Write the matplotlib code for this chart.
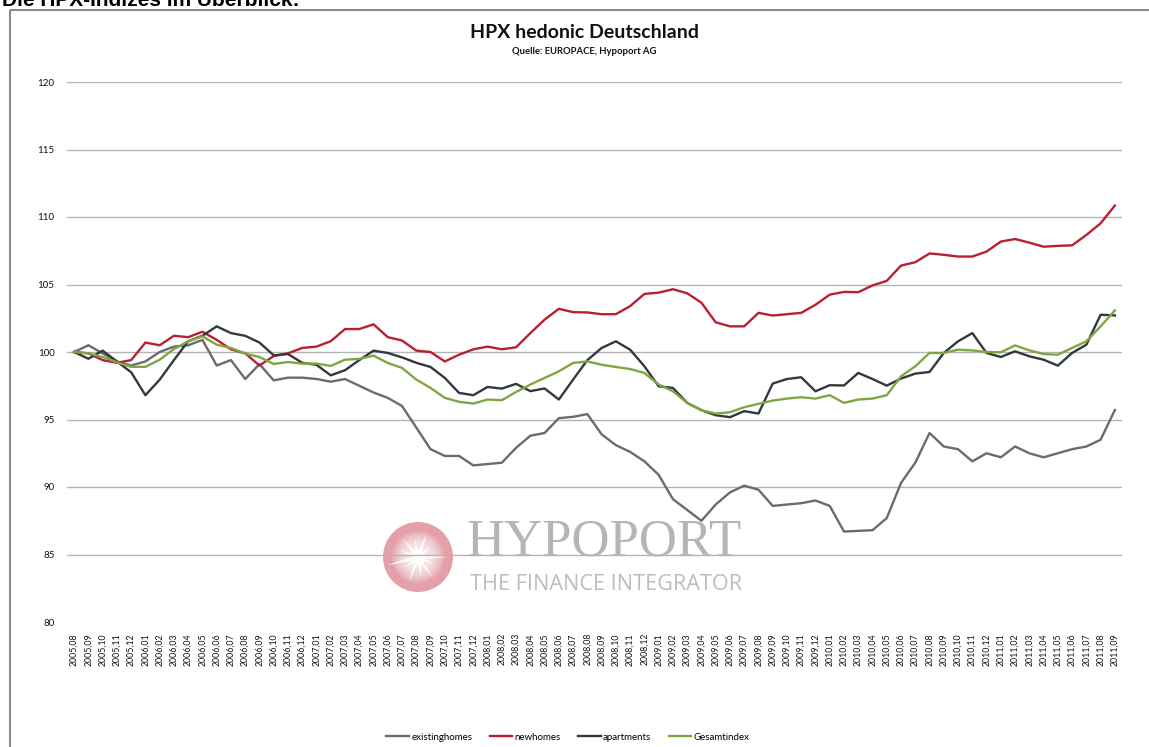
import numpy as np
import matplotlib
matplotlib.use("Agg")
import matplotlib.pyplot as plt
from matplotlib.patches import Circle, Rectangle, Polygon

plt.rcParams['font.family'] = ['Lato', 'DejaVu Sans']

# monthly index values, 2005-08 .. 2011-09 (base 2005-08 = 100)
months = [(y, m) for y in range(2005, 2012) for m in range(1, 13)
          if (y, m) >= (2005, 8) and (y, m) <= (2011, 9)]
tick_labels = ["%d,%02d" % (y, m) for y, m in months]

existinghomes = [100.0, 100.5, 99.9, 99.3, 99.0, 99.3, 100.0, 100.4, 100.5, 100.9,
                 99.0, 99.4, 98.0, 99.1, 97.9, 98.1, 98.1, 98.0, 97.8, 98.0,
                 97.5, 97.0, 96.6, 96.0, 94.4, 92.8, 92.3, 92.3, 91.6, 91.7,
                 91.8, 92.9, 93.8, 94.0, 95.1, 95.2, 95.4, 93.9, 93.1, 92.6,
                 91.9, 90.9, 89.1, 88.3, 87.5, 88.7, 89.6, 90.1, 89.8, 88.6,
                 88.7, 88.8, 89.0, 88.6, 86.7, 86.75, 86.8, 87.7, 90.3, 91.8,
                 94.0, 93.0, 92.8, 91.9, 92.5, 92.2, 93.0, 92.5, 92.2, 92.5,
                 92.8, 93.0, 93.5, 95.7]
newhomes = [100.0, 99.9, 99.4, 99.2, 99.4, 100.7, 100.5, 101.2, 101.1, 101.5,
            100.9, 100.2, 99.9, 99.0, 99.7, 99.9, 100.3, 100.4, 100.8, 101.7,
            101.7, 102.05, 101.1, 100.85, 100.1, 100.0, 99.3, 99.8, 100.2, 100.4,
            100.2, 100.35, 101.4, 102.4, 103.2, 102.95, 102.93, 102.8, 102.8, 103.4,
            104.3, 104.4, 104.65, 104.35, 103.65, 102.2, 101.9, 101.9, 102.9, 102.7,
            102.8, 102.9, 103.5, 104.25, 104.45, 104.43, 104.93, 105.27, 106.4, 106.65,
            107.3, 107.2, 107.07, 107.07, 107.44, 108.18, 108.37, 108.1, 107.8, 107.86,
            107.9, 108.67, 109.53, 110.85]
apartments = [100.0, 99.5, 100.1, 99.3, 98.5, 96.8, 97.95, 99.4, 100.8, 101.2,
              101.9, 101.4, 101.2, 100.7, 99.75, 99.85, 99.2, 99.05, 98.27, 98.65,
              99.4, 100.1, 99.93, 99.6, 99.2, 98.89, 98.08, 96.97, 96.8, 97.41,
              97.29, 97.64, 97.1, 97.3, 96.48, 97.96, 99.4, 100.3, 100.79, 100.17,
              98.94, 97.46, 97.34, 96.23, 95.69, 95.32, 95.17, 95.62, 95.44, 97.66,
              98.0, 98.13, 97.09, 97.54, 97.52, 98.45, 98.0, 97.51, 98.03, 98.4,
              98.52, 99.93, 100.79, 101.4, 99.93, 99.63, 100.05, 99.68, 99.43, 98.99,
              99.93, 100.54, 102.76, 102.71]
gesamtindex = [100.0, 99.9, 99.63, 99.24, 98.9, 98.9, 99.43, 100.22, 100.79, 101.16,
               100.54, 100.3, 99.88, 99.63, 99.11, 99.26, 99.14, 99.14, 98.97, 99.43,
               99.49, 99.73, 99.19, 98.82, 97.96, 97.34, 96.6, 96.31, 96.18, 96.48,
               96.43, 97.04, 97.59, 98.08, 98.57, 99.19, 99.3, 99.06, 98.89, 98.74,
               98.45, 97.59, 97.09, 96.23, 95.69, 95.44, 95.54, 95.91, 96.16, 96.4,
               96.55, 96.65, 96.55, 96.8, 96.23, 96.48, 96.55, 96.8, 98.2, 98.94,
               99.93, 99.93, 100.17, 100.12, 100.0, 99.98, 100.49, 100.12, 99.85, 99.8,
               100.3, 100.79, 101.9, 103.08]

series = [("existinghomes", existinghomes, "#696b6d"),
          ("newhomes", newhomes, "#b81f30"),
          ("apartments", apartments, "#33383c"),
          ("Gesamtindex", gesamtindex, "#80a643")]

W, H = 1149, 747
fig = plt.figure(figsize=(W / 100, H / 100), dpi=100)

# background layer: frame and watermark
bg = fig.add_axes([0, 0, 1, 1], zorder=0)
bg.set_xlim(0, W)
bg.set_ylim(H, 0)
bg.axis("off")
bg.add_patch(Rectangle((10, 10), W + 20, H + 20, fill=False, ec="#8a8a8a", lw=1.5))

cx, cy, r = 418, 557, 35
bg.add_patch(Circle((cx, cy), r, fc="#e4a0a8", ec="none"))
for k in np.linspace(0.75, 0.05, 24):
    bg.add_patch(Circle((cx, cy), r * k, fc="white", ec="none", alpha=0.09))
angles = np.deg2rad([0, 25, 55, 80, 110, 140, 165, 200, 230, 260, 290, 320])
lengths = [30, 18, 24, 20, 26, 16, 32, 20, 23, 18, 25, 17]
for ang, ln in zip(angles, lengths):
    tip = (cx + ln * np.cos(ang), cy + ln * np.sin(ang))
    p1 = (cx + 2.5 * np.cos(ang + np.pi / 2), cy + 2.5 * np.sin(ang + np.pi / 2))
    p2 = (cx + 2.5 * np.cos(ang - np.pi / 2), cy + 2.5 * np.sin(ang - np.pi / 2))
    bg.add_patch(Polygon([p1, tip, p2], fc="white", ec="none", alpha=0.85))
bg.add_patch(Circle((cx, cy), 7, fc="white", ec="none"))
bg.text(467, 555, "HYPOPORT", family="Liberation Serif", fontsize=38,
        color="#b5b5b5", ha="left", va="baseline")
bg.text(470, 590, "THE FINANCE INTEGRATOR", family="Open Sans", fontsize=15.6,
        color="#bdbdbd", ha="left", va="baseline")

# main chart
ax = fig.add_axes([67 / W, 1 - 622 / H, (1122 - 67) / W, (622 - 82) / H], zorder=1)
ax.set_facecolor("none")
x = np.arange(len(months))
handles = []
for name, vals, col in series:
    l, = ax.plot(x, vals, color=col, lw=1.7, label=name, solid_joinstyle="round")
    handles.append(l)

ax.set_xlim(-0.5, len(months) - 0.5)
ax.set_ylim(80, 120)
ax.set_yticks(range(80, 121, 5))
ax.set_xticks(x)
ax.set_xticklabels(tick_labels, rotation=90, fontsize=6.3, color="#111111")
ax.tick_params(axis="x", length=0, pad=8)
ax.tick_params(axis="y", length=0, pad=9, labelsize=7, labelcolor="#111111")
ax.yaxis.grid(True, color="#b4b4b4", lw=1.0)
ax.set_axisbelow(True)
ax.get_ygridlines()[0].set_visible(False)
for s in ax.spines.values():
    s.set_visible(False)

fig.text(584 / W, 1 - 33 / H, "HPX hedonic Deutschland", ha="center", va="center",
         fontsize=14, fontweight="bold", color="#111111")
fig.text(584 / W, 1 - 52 / H, "Quelle: EUROPACE, Hypoport AG", ha="center",
         va="center", fontsize=6.8, fontweight="bold", color="#111111")
fig.text(2 / W, 1 - 6 / H, "Die HPX-Indizes im \u00dcberblick:", ha="left",
         va="baseline", fontsize=15, fontweight="bold", family="Liberation Sans")

fig.legend(handles, [s[0] for s in series], loc="center",
           bbox_to_anchor=(568 / W, 1 - 737 / H), ncol=4, frameon=False,
           fontsize=7, handlelength=2.3, handletextpad=0.25, columnspacing=1.8)

fig.savefig("out.png", dpi=100)
